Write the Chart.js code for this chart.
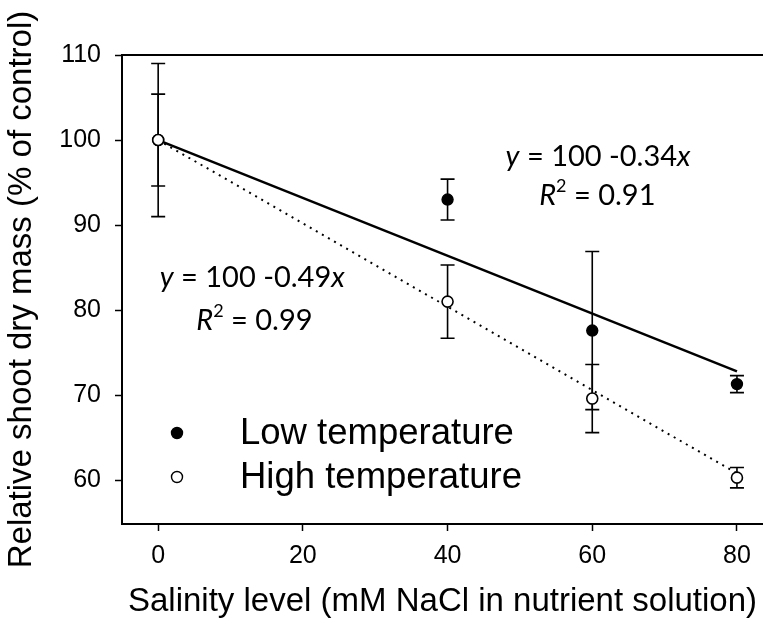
<!DOCTYPE html>
<html>
<head>
<meta charset="utf-8">
<script src="https://cdn.jsdelivr.net/npm/chart.js@4.4.1/dist/chart.umd.min.js"></script>
<style>
  html, body { margin: 0; padding: 0; background: #fff; }
  #wrap { width: 763px; height: 624px; }
</style>
</head>
<body>
<div id="wrap"><canvas id="chart" width="763" height="624"></canvas></div>
<script>
// Salinity levels (mM NaCl) and relative shoot dry mass (% of control)
const salinity = [0, 40, 60, 80];
const lowTemp = [100, 93.0, 77.6, 71.3];
const lowTempErr = [9.0, 2.4, 9.3, 1.0];
const highTemp = [100, 81.0, 69.6, 60.3];
const highTempErr = [5.4, 4.3, 4.0, 1.2];

// Fitted regression lines (end points)
const fitX = [0, 80];
const lowFit = [100, 72.8];   // y = 100 - 0.34x
const highFit = [100, 60.8];  // y = 100 - 0.49x

const xTicks = [0, 20, 40, 60, 80];
const yTicks = [60, 70, 80, 90, 100, 110];

const seriesNames = ['Low temperature', 'High temperature'];

const tickFont = { family: 'Liberation Sans, Arial, sans-serif', size: 25 };
const titleFont = { family: 'Liberation Sans, Arial, sans-serif', size: 33 };
const eqFamily = 'Lato, sans-serif';

function pts(xs, ys) {
  return xs.map((x, i) => ({ x: x, y: ys[i] }));
}

// draws one line of mixed text: [text, italic, superscript]
function drawParts(ctx, parts, cx, cy, size) {
  const fontOf = p => (p[1] ? 'italic ' : '') + (p[2] ? Math.round(size * 0.62) : size) + 'px ' + eqFamily;
  let total = 0;
  parts.forEach(p => { ctx.font = fontOf(p); total += ctx.measureText(p[0]).width; });
  let x = cx - total / 2;
  ctx.textBaseline = 'middle';
  ctx.textAlign = 'left';
  parts.forEach(p => {
    ctx.font = fontOf(p);
    ctx.fillText(p[0], x, p[2] ? cy - size * 0.32 : cy);
    x += ctx.measureText(p[0]).width;
  });
}

// keep the plot box fixed: no extra room reserved for edge tick labels
function noEdgePadding(s) {
  s.paddingLeft = 0; s.paddingRight = 0;
  s.paddingTop = 0; s.paddingBottom = 0;
}

const extras = {
  id: 'extras',
  beforeDatasetsDraw(chart) {
    const ctx = chart.ctx;
    const xs = chart.scales.x, ys = chart.scales.y;
    ctx.save();
    ctx.strokeStyle = '#000';
    ctx.lineWidth = 1.6;
    const bars = [[lowTemp, lowTempErr], [highTemp, highTempErr]];
    bars.forEach(([vals, errs]) => {
      vals.forEach((v, i) => {
        const px = xs.getPixelForValue(salinity[i]);
        const top = ys.getPixelForValue(v + errs[i]);
        const bot = ys.getPixelForValue(v - errs[i]);
        ctx.beginPath();
        ctx.moveTo(px, top); ctx.lineTo(px, bot);
        ctx.moveTo(px - 7, top); ctx.lineTo(px + 7, top);
        ctx.moveTo(px - 7, bot); ctx.lineTo(px + 7, bot);
        ctx.stroke();
      });
    });
    ctx.restore();
  },
  afterDraw(chart) {
    const ctx = chart.ctx;
    const a = chart.chartArea;
    const xs = chart.scales.x, ys = chart.scales.y;
    ctx.save();

    // top frame line
    ctx.strokeStyle = '#000';
    ctx.lineWidth = 2;
    ctx.beginPath();
    ctx.moveTo(a.left - 1, a.top);
    ctx.lineTo(a.right, a.top);
    ctx.stroke();

    // regression equations
    ctx.fillStyle = '#000';
    drawParts(ctx, [['y', true], [' = 100 -0.49', false], ['x', true]],
      xs.getPixelForValue(13.0), ys.getPixelForValue(83.8), 29);
    drawParts(ctx, [['R', true], ['2', false, true], [' = 0.99', false]],
      xs.getPixelForValue(13.3), ys.getPixelForValue(78.8), 29);
    drawParts(ctx, [['y', true], [' = 100 -0.34', false], ['x', true]],
      xs.getPixelForValue(60.8), ys.getPixelForValue(98.0), 29);
    drawParts(ctx, [['R', true], ['2', false, true], [' = 0.91', false]],
      xs.getPixelForValue(60.7), ys.getPixelForValue(93.5), 29);

    // legend
    const lx = a.left + 55, ly = a.top + 378, gap = 44;
    chart.data.datasets.slice(0, 2).forEach((ds, i) => {
      const y = ly + i * gap;
      ctx.beginPath();
      ctx.arc(lx, y, 5.5, 0, Math.PI * 2);
      ctx.fillStyle = ds.backgroundColor;
      ctx.fill();
      ctx.lineWidth = 1.4;
      ctx.strokeStyle = '#000';
      ctx.stroke();
      ctx.fillStyle = '#000';
      ctx.font = '36.5px Liberation Sans, Arial, sans-serif';
      ctx.textAlign = 'left';
      ctx.textBaseline = 'middle';
      ctx.fillText(seriesNames[i], lx + 63, y + 1);
    });
    ctx.restore();
  }
};

new Chart(document.getElementById('chart'), {
  type: 'scatter',
  data: {
    datasets: [
      {
        label: seriesNames[0],
        data: pts(salinity, lowTemp),
        backgroundColor: '#000',
        borderColor: '#000',
        borderWidth: 1.4,
        pointRadius: 5.5,
        order: 1
      },
      {
        label: seriesNames[1],
        data: pts(salinity, highTemp),
        backgroundColor: '#fff',
        borderColor: '#000',
        borderWidth: 1.6,
        pointRadius: 5.5,
        order: 0
      },
      {
        label: 'Low fit',
        data: pts(fitX, lowFit),
        showLine: true,
        borderColor: '#000',
        borderWidth: 2.5,
        pointRadius: 0,
        order: 2
      },
      {
        label: 'High fit',
        data: pts(fitX, highFit),
        showLine: true,
        borderColor: '#000',
        borderWidth: 2,
        borderDash: [2, 5],
        pointRadius: 0,
        order: 3
      }
    ]
  },
  options: {
    responsive: false,
    animation: false,
    devicePixelRatio: 1,
    layout: { autoPadding: false, padding: { top: 55, right: 0, left: 0, bottom: 0 } },
    plugins: {
      legend: { display: false },
      tooltip: { enabled: false }
    },
    scales: {
      x: {
        type: 'linear',
        min: -5,
        max: 83.6,
        afterBuildTicks: s => { s.ticks = xTicks.map(v => ({ value: v })); },
        afterFit: s => { s.height = 100; noEdgePadding(s); },
        grid: { display: true, drawOnChartArea: false, drawTicks: true, tickLength: 7, tickWidth: 1.5, tickColor: '#000' },
        border: { display: true, color: '#000', width: 2 },
        ticks: { color: '#000', font: tickFont, padding: 10, maxRotation: 0 },
        title: {
          display: true,
          text: 'Salinity level (mM NaCl in nutrient solution)',
          color: '#000',
          font: titleFont,
          padding: { top: 0, bottom: 2 }
        }
      },
      y: {
        type: 'linear',
        min: 54.85,
        max: 110,
        afterBuildTicks: s => { s.ticks = yTicks.map(v => ({ value: v })); },
        afterFit: s => { s.width = 122; noEdgePadding(s); },
        grid: { display: true, drawOnChartArea: false, drawTicks: true, tickLength: 7, tickWidth: 1.5, tickColor: '#000' },
        border: { display: true, color: '#000', width: 2 },
        ticks: { color: '#000', font: tickFont, padding: 14 },
        title: {
          display: true,
          text: 'Relative shoot dry mass (% of control)',
          color: '#000',
          font: titleFont,
          padding: { top: 2, bottom: 0 }
        }
      }
    }
  },
  plugins: [extras]
});
</script>
</body>
</html>
